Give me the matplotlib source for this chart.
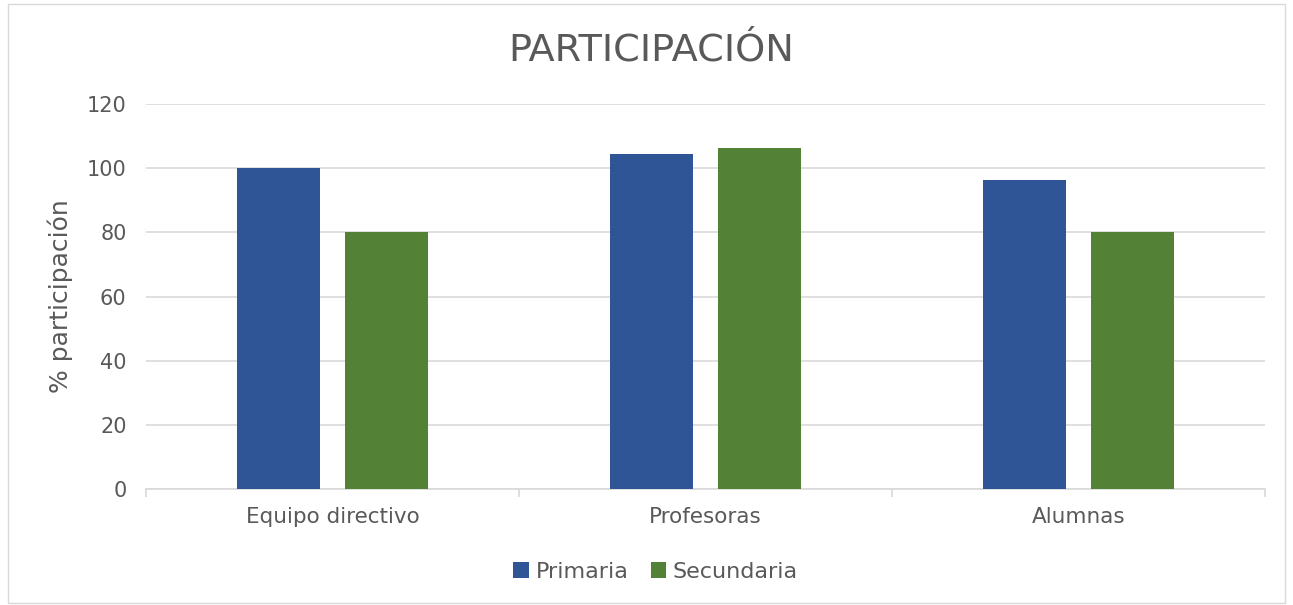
import matplotlib.pyplot as plt
import numpy as np
from matplotlib.patches import Rectangle

# Data
categories = ["Equipo directivo", "Profesoras", "Alumnas"]
primaria = [100, 104.4, 96.2]
secundaria = [80, 106.2, 80]
yticks = [0, 20, 40, 60, 80, 100, 120]

blue = "#2F5597"
green = "#538135"
text_col = "#595959"
grid_col = "#D9D9D9"

plt.rcParams['font.family'] = ['DejaVu Sans']

fig = plt.figure(figsize=(12.93, 6.05), dpi=100)
ax = fig.add_axes([0.1129, 0.1917, 0.8654, 0.6364])

x = np.arange(len(categories))
w = 0.223
off = 0.145
ax.bar(x - off, primaria, w, color=blue, label="Primaria", zorder=3)
ax.bar(x + off, secundaria, w, color=green, label="Secundaria", zorder=3)

ax.set_xlim(-0.5, len(categories) - 0.5)
ax.set_ylim(0, 120)
ax.set_yticks(yticks)
ax.yaxis.grid(True, color=grid_col, linewidth=1.2, zorder=0)
ax.tick_params(axis='y', length=0, labelsize=15, labelcolor=text_col, pad=14)

ax.set_xticks(x)
ax.set_xticklabels(categories, fontsize=15.5, color=text_col)
ax.tick_params(axis='x', length=0, pad=13)
# category boundary tick marks
ax.set_xticks(np.arange(-0.5, len(categories), 1), minor=True)
ax.tick_params(axis='x', which='minor', length=6, color=grid_col, width=1.2)

for s in ["top", "right", "left"]:
    ax.spines[s].set_visible(False)
ax.spines["bottom"].set_color(grid_col)
ax.spines["bottom"].set_linewidth(1.2)

ax.set_ylabel("% participación", fontsize=18, color=text_col, labelpad=10)
fig.text(0.504, 0.917, "PARTICIPACIÓN", ha="center", va="center",
         fontsize=27.5, color=text_col)

ax.legend(loc="center", bbox_to_anchor=(0.507, 1 - 572 / 605), bbox_transform=fig.transFigure,
          ncol=2, frameon=False, fontsize=16, labelcolor=text_col,
          handlelength=0.7, handleheight=0.7, columnspacing=1.0, handletextpad=0.3)

fig.patches.append(Rectangle((0.006, 0.003), 0.988, 0.99, transform=fig.transFigure,
                             fill=False, edgecolor=grid_col, linewidth=1))

fig.savefig("out.png", dpi=100, facecolor="white")
